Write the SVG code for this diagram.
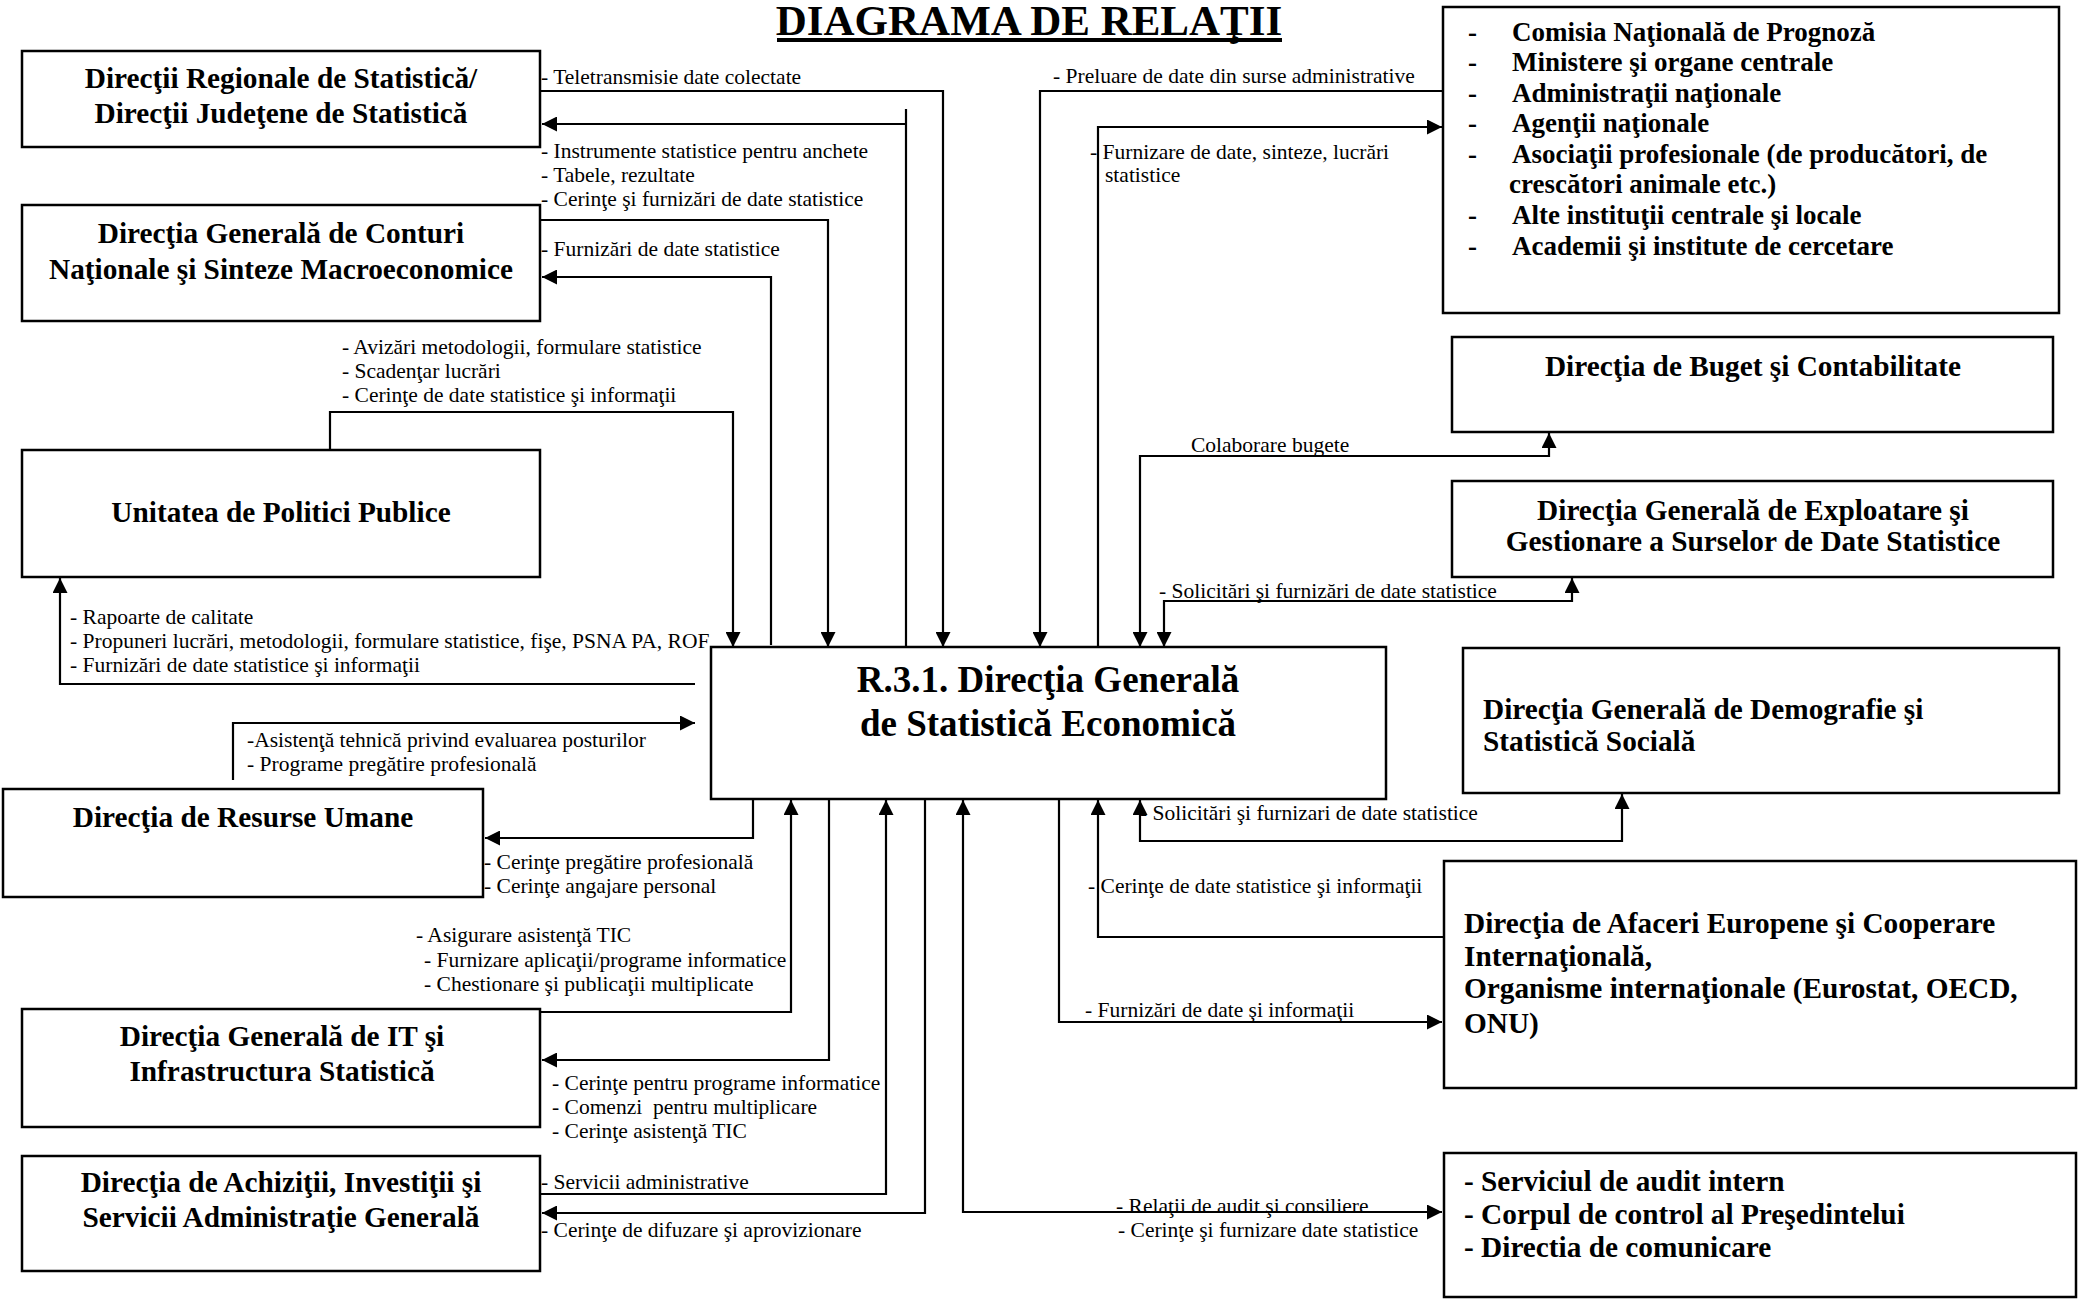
<svg xmlns="http://www.w3.org/2000/svg" width="2078" height="1303" viewBox="0 0 2078 1303">
<style>
.box{fill:#fff;stroke:#000;stroke-width:2.5}
.nt{font-family:"Liberation Serif","Times New Roman",serif;font-weight:bold;font-size:29.3px;fill:#000}
.nl{font-family:"Liberation Serif","Times New Roman",serif;font-weight:bold;font-size:27px;fill:#000}
.lb{font-family:"Liberation Serif","Times New Roman",serif;font-size:21.5px;fill:#000}
.cn{fill:none;stroke:#000;stroke-width:2.2}
.c{text-anchor:middle}
</style>
<defs>
<marker id="ah" viewBox="0 0 15 15" refX="15" refY="7.5" markerWidth="15" markerHeight="15" markerUnits="userSpaceOnUse" orient="auto-start-reverse"><path d="M0,0 L15,7.5 L0,15 z" fill="#000"/></marker>
</defs>
<rect x="0" y="0" width="2078" height="1303" fill="#fff"/>
<g id="title">
<text x="1029" y="35" class="c" style="font-family:'Liberation Serif','Times New Roman',serif;font-weight:bold;font-size:43px">DIAGRAMA DE RELAŢII</text>
<rect x="777" y="38" width="505" height="4" fill="#000"/>
</g>
<g id="connectors">
<path class="cn" d="M541,91 H943 V647" marker-end="url(#ah)"/>
<path class="cn" d="M906,652 V109"/>
<path class="cn" d="M906,124 H542" marker-end="url(#ah)"/>
<path class="cn" d="M541,220 H828 V647" marker-end="url(#ah)"/>
<path class="cn" d="M771,645 V277 H542" marker-end="url(#ah)"/>
<path class="cn" d="M330,450 V412 H733 V647" marker-end="url(#ah)"/>
<path class="cn" d="M1443,91 H1040 V647" marker-end="url(#ah)"/>
<path class="cn" d="M1098,647 V127 H1442" marker-end="url(#ah)"/>
<path class="cn" d="M1140,647 V456 H1549 V433" marker-start="url(#ah)" marker-end="url(#ah)"/>
<path class="cn" d="M1164,647 V601 H1572 V578" marker-start="url(#ah)" marker-end="url(#ah)"/>
<path class="cn" d="M1140,800 V841 H1622 V794" marker-start="url(#ah)" marker-end="url(#ah)"/>
<path class="cn" d="M1443,937 H1098 V800" marker-end="url(#ah)"/>
<path class="cn" d="M1059,800 V1022 H1442" marker-end="url(#ah)"/>
<path class="cn" d="M963,800 V1212 H1442" marker-start="url(#ah)" marker-end="url(#ah)"/>
<path class="cn" d="M925,800 V1213 H542" marker-end="url(#ah)"/>
<path class="cn" d="M541,1194 H886 V800" marker-end="url(#ah)"/>
<path class="cn" d="M829,800 V1060 H542" marker-end="url(#ah)"/>
<path class="cn" d="M541,1012 H791 V800" marker-end="url(#ah)"/>
<path class="cn" d="M753,800 V838 H485" marker-end="url(#ah)"/>
<path class="cn" d="M233,780 V723 H695" marker-end="url(#ah)"/>
<path class="cn" d="M695,684 H60 V578" marker-end="url(#ah)"/>
</g>
<g id="labels">
<text class="lb" x="541" y="84">- Teletransmisie date colectate</text>
<text class="lb" x="541" y="158">- Instrumente statistice pentru anchete</text>
<text class="lb" x="541" y="182">- Tabele, rezultate</text>
<text class="lb" x="541" y="206">- Cerinţe şi furnizări de date statistice</text>
<text class="lb" x="541" y="256">- Furnizări de date statistice</text>
<text class="lb" x="342" y="354">- Avizări metodologii, formulare statistice</text>
<text class="lb" x="342" y="378">- Scadenţar lucrări</text>
<text class="lb" x="342" y="402">- Cerinţe de date statistice şi informaţii</text>
<text class="lb" x="70" y="624">- Rapoarte de calitate</text>
<text class="lb" x="70" y="648">- Propuneri lucrări, metodologii, formulare statistice, fişe, PSNA PA, ROF</text>
<text class="lb" x="70" y="672">- Furnizări de date statistice şi informaţii</text>
<text class="lb" x="247" y="747">-Asistenţă tehnică privind evaluarea posturilor</text>
<text class="lb" x="247" y="771">- Programe pregătire profesională</text>
<text class="lb" x="484" y="869">- Cerinţe pregătire profesională</text>
<text class="lb" x="484" y="893">- Cerinţe angajare personal</text>
<text class="lb" x="416" y="942">- Asigurare asistenţă TIC</text>
<text class="lb" x="424" y="967">- Furnizare aplicaţii/programe informatice</text>
<text class="lb" x="424" y="991">- Chestionare şi publicaţii multiplicate</text>
<text class="lb" x="552" y="1090">- Cerinţe pentru programe informatice</text>
<text class="lb" x="552" y="1114" xml:space="preserve">- Comenzi  pentru multiplicare</text>
<text class="lb" x="552" y="1138">- Cerinţe asistenţă TIC</text>
<text class="lb" x="541" y="1189">- Servicii administrative</text>
<text class="lb" x="541" y="1237">- Cerinţe de difuzare şi aprovizionare</text>
<text class="lb" x="1053" y="83">- Preluare de date din surse administrative</text>
<text class="lb" x="1090" y="159">- Furnizare de date, sinteze, lucrări</text>
<text class="lb" x="1105" y="182">statistice</text>
<text class="lb" x="1191" y="452">Colaborare bugete</text>
<text class="lb" x="1159" y="598">- Solicitări şi furnizări de date statistice</text>
<text class="lb" x="1140" y="820">- Solicitări şi furnizari de date statistice</text>
<text class="lb" x="1088" y="893">- Cerinţe de date statistice şi informaţii</text>
<text class="lb" x="1085" y="1017">- Furnizări de date şi informaţii</text>
<text class="lb" x="1116" y="1213">- Relaţii de audit şi consiliere</text>
<text class="lb" x="1118" y="1237">- Cerinţe şi furnizare date statistice</text>
</g>
<g id="node-drs">
<rect class="box" x="22" y="51" width="518" height="96"/>
<text class="nt c" x="281" y="88">Direcţii Regionale de Statistică/</text>
<text class="nt c" x="281" y="123">Direcţii Judeţene de Statistică</text>
</g>
<g id="node-conturi">
<rect class="box" x="22" y="205" width="518" height="116"/>
<text class="nt c" x="281" y="243">Direcţia Generală de Conturi</text>
<text class="nt c" x="281" y="279">Naţionale şi Sinteze Macroeconomice</text>
</g>
<g id="node-upp">
<rect class="box" x="22" y="450" width="518" height="127"/>
<text class="nt c" x="281" y="522">Unitatea de Politici Publice</text>
</g>
<g id="node-ru">
<rect class="box" x="3" y="789" width="480" height="108"/>
<text class="nt c" x="243" y="827">Direcţia de Resurse Umane</text>
</g>
<g id="node-it">
<rect class="box" x="22" y="1009" width="518" height="118"/>
<text class="nt c" x="282" y="1046">Direcţia Generală de IT şi</text>
<text class="nt c" x="282" y="1081">Infrastructura Statistică</text>
</g>
<g id="node-achizitii">
<rect class="box" x="22" y="1156" width="518" height="115"/>
<text class="nt c" x="281" y="1192">Direcţia de Achiziţii, Investiţii şi</text>
<text class="nt c" x="281" y="1227">Servicii Administraţie Generală</text>
</g>
<g id="node-central">
<rect class="box" x="711" y="647" width="675" height="152"/>
<text class="nt c" x="1048" y="692" style="font-size:37px">R.3.1. Direcţia Generală</text>
<text class="nt c" x="1048" y="736" style="font-size:37px">de Statistică Economică</text>
</g>
<g id="node-externe">
<rect class="box" x="1443" y="7" width="616" height="306"/>
<text class="nl" x="1468" y="41">-</text><text class="nl" x="1512" y="41">Comisia Naţională de Prognoză</text>
<text class="nl" x="1468" y="71">-</text><text class="nl" x="1512" y="71">Ministere şi organe centrale</text>
<text class="nl" x="1468" y="102">-</text><text class="nl" x="1512" y="102">Administraţii naţionale</text>
<text class="nl" x="1468" y="132">-</text><text class="nl" x="1512" y="132">Agenţii naţionale</text>
<text class="nl" x="1468" y="163">-</text><text class="nl" x="1512" y="163">Asociaţii profesionale (de producători, de</text>
<text class="nl" x="1509" y="193">crescători animale etc.)</text>
<text class="nl" x="1468" y="224">-</text><text class="nl" x="1512" y="224">Alte instituţii centrale şi locale</text>
<text class="nl" x="1468" y="255">-</text><text class="nl" x="1512" y="255">Academii şi institute de cercetare</text>
</g>
<g id="node-buget">
<rect class="box" x="1452" y="337" width="601" height="95"/>
<text class="nt c" x="1753" y="376">Direcţia de Buget şi Contabilitate</text>
</g>
<g id="node-exploatare">
<rect class="box" x="1452" y="481" width="601" height="96"/>
<text class="nt c" x="1753" y="520">Direcţia Generală de Exploatare şi</text>
<text class="nt c" x="1753" y="551">Gestionare a Surselor de Date Statistice</text>
</g>
<g id="node-demografie">
<rect class="box" x="1463" y="648" width="596" height="145"/>
<text class="nt" x="1483" y="719">Direcţia Generală de Demografie şi</text>
<text class="nt" x="1483" y="751">Statistică Socială</text>
</g>
<g id="node-afaceri">
<rect class="box" x="1444" y="861" width="632" height="227"/>
<text class="nt" x="1464" y="933">Direcţia de Afaceri Europene şi Cooperare</text>
<text class="nt" x="1464" y="966">Internaţională,</text>
<text class="nt" x="1464" y="998">Organisme internaţionale (Eurostat, OECD,</text>
<text class="nt" x="1464" y="1033">ONU)</text>
</g>
<g id="node-audit">
<rect class="box" x="1444" y="1153" width="632" height="144"/>
<text class="nt" x="1464" y="1191">- Serviciul de audit intern</text>
<text class="nt" x="1464" y="1224">- Corpul de control al Preşedintelui</text>
<text class="nt" x="1464" y="1257">- Directia de comunicare</text>
</g>
</svg>
